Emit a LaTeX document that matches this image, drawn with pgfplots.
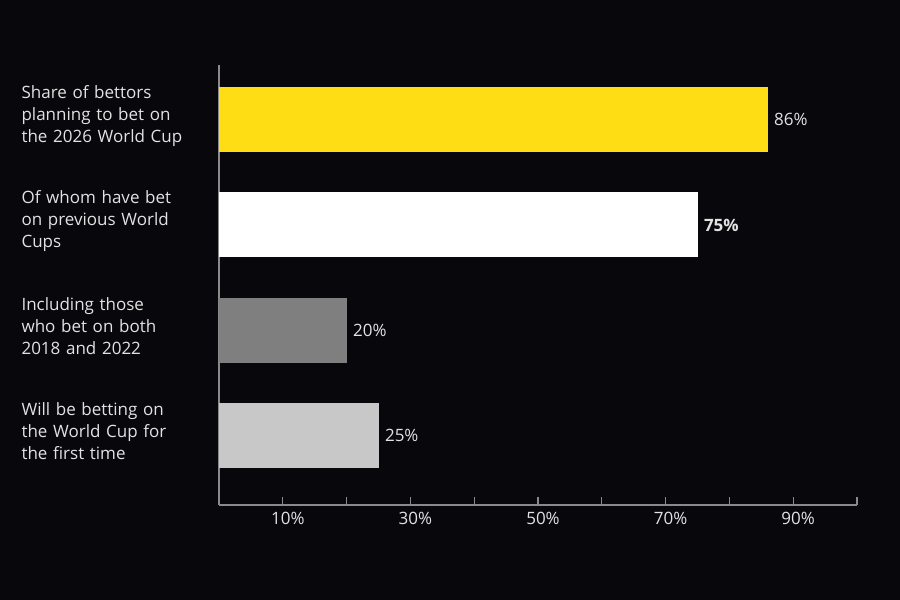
\documentclass[border=0pt]{standalone}
\usepackage{pgfplots}
\pgfplotsset{compat=1.18}
\usepackage{fontspec}
\setmainfont{Open Sans}
\definecolor{bg}{HTML}{08080C}
\definecolor{txt}{HTML}{E2E2E2}
\definecolor{axisgray}{HTML}{8A8A8A}
\definecolor{cyellow}{HTML}{FFDD15}
\definecolor{cwhite}{HTML}{FFFFFF}
\definecolor{cdark}{HTML}{7F7F7F}
\definecolor{clight}{HTML}{C8C8C8}
\begin{document}
\begin{tikzpicture}[x=1pt,y=1pt]
\fill[bg] (0,0) rectangle (900,600);
\begin{axis}[
  at={(219pt,95pt)}, anchor=south west,
  width=638pt, height=440pt, scale only axis,
  xmin=0, xmax=100, ymin=-0.66, ymax=3.52,
  xbar, bar width=65pt, bar shift=0pt,
  axis x line=bottom, axis y line=left,
  axis line style={-, draw=axisgray, line width=1.2pt},
  xtick={10,20,...,100},
  xticklabels={10\%,,30\%,,50\%,,70\%,,90\%,},
  tick align=inside, major tick length=8pt,
  tick style={draw=axisgray, line width=1.2pt},
  xticklabel style={text=txt, font=\fontsize{17}{20}\selectfont, yshift=-4pt, xshift=5pt},
  ytick={0,1,2,3},
  yticklabels={Will be betting on\\the World Cup for\\the first time,
               Including those\\who bet on both\\2018 and 2022,
               Of whom have bet\\on previous World\\Cups,
               Share of bettors\\planning to bet on\\the 2026 World Cup},
  ytick style={draw=none},
  yticklabel style={anchor=west, align=left, text width=195pt, xshift=-201pt, yshift=4pt,
     text=txt, font=\fontsize{17}{22}\selectfont},
  /pgf/number format/assume math mode=true,
  point meta=x,
  nodes near coords={\pgfmathprintnumber{\pgfplotspointmeta}\%},
  nodes near coords style={anchor=west, xshift=3pt, text=txt, font=\fontsize{17}{20}\selectfont},
  clip=false,
]
\addplot[fill=clight, draw=none] coordinates {(25,0)};
\addplot[fill=cdark, draw=none] coordinates {(20,1)};
\addplot[fill=cwhite, draw=none, nodes near coords style={font=\fontsize{17}{20}\selectfont\bfseries}] coordinates {(75,2)};
\addplot[fill=cyellow, draw=none] coordinates {(86,3)};
\end{axis}
\end{tikzpicture}
\end{document}
